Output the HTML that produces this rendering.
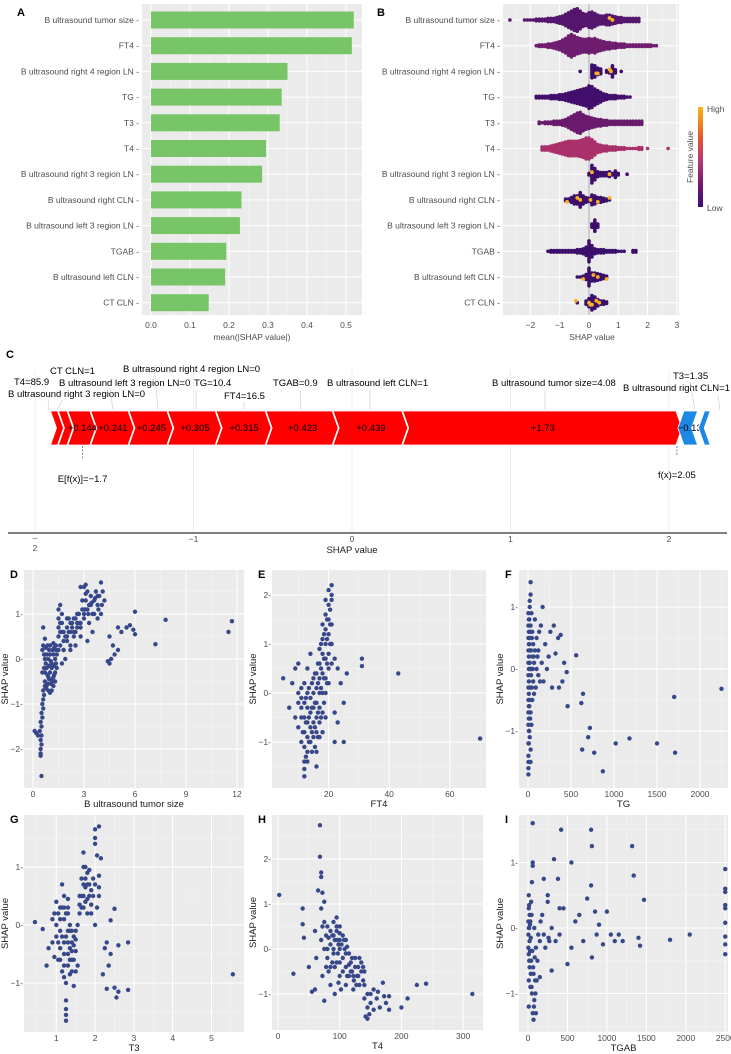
<!DOCTYPE html>
<html><head><meta charset="utf-8"><style>
html,body{margin:0;padding:0;background:#fff;}
svg{display:block;font-family:"Liberation Sans",Arial,sans-serif;}
.tk{font-size:8.5px;fill:#4d4d4d;}
.tt{font-size:9.5px;fill:#1a1a1a;}
.pl{font-size:11px;font-weight:bold;fill:#000;}
.fl{font-size:9.5px;fill:#000;}
</style></head><body>
<svg id="fig" width="731" height="1054" viewBox="0 0 731 1054" xmlns="http://www.w3.org/2000/svg"></svg>
<script>
// ---------- DATA ----------
const features = ["B ultrasound tumor size","FT4","B ultrasound right 4 region LN","TG","T3","T4","B ultrasound right 3 region LN","B ultrasound right CLN","B ultrasound left 3 region LN","TGAB","B ultrasound left CLN","CT CLN"];
const importance = [0.52,0.515,0.35,0.335,0.33,0.295,0.285,0.232,0.228,0.193,0.19,0.148];
const importanceTicks = [0.0,0.1,0.2,0.3,0.4,0.5];
const swarmStart = [-2.7,-1.8,-0.3,-1.8,-1.7,-1.6,0.0,-0.8,0.1,-1.4,-0.4,-0.4];
const swarmCounts = [
 [1,0,0,0,0,1,1,1,1,2,2,2,2,3,3,3,4,5,6,8,10,12,14,15,12,9,8,10,11,9,7,6,6,7,7,6,5,4,4,3,3,3,3,3,3],
 [1,2,2,2,3,3,4,5,6,8,10,13,15,13,11,10,9,9,10,9,10,8,7,6,5,5,4,4,3,3,3,2,2,2,2,2,2,2,2,2,1,1],
 [1,0,0,0,9,8,5,4,0,2,3,8,3,0,1],
 [2,2,2,2,2,3,3,3,4,4,5,6,7,8,9,10,11,12,15,14,11,9,7,5,4,3,3,3,2,2,2,1,1],
 [2,1,2,2,2,3,3,3,4,5,7,9,11,13,14,11,9,8,7,6,5,5,4,4,3,3,3,3,3,3,3,3,3,3,3,3],
 [3,3,3,4,5,6,7,8,9,10,10,10,10,11,12,14,14,12,9,6,5,4,4,3,3,3,2,2,2,1,1,1,1,2,2,0,1,0,0,0,0,0,0,1],
 [2,12,8,4,3,3,3,4,2,5,2,0,0,1],
 [2,2,4,6,6,10,6,4,3,7,6,4,4,3,2,1],
 [3,8,3],
 [1,2,2,2,2,2,2,2,2,2,3,3,4,6,14,8,4,3,3,3,2,2,2,2,1,1,1,0,0,2,2],
 [1,1,2,4,12,6,6,5,4,3,2],
 [1,0,0,3,6,10,8,5,3,3,2]
];
const swarmColor = ["#55166d","#6e1d6f","#3d0f6c","#430f6c","#6a1b6e","#a9306b","#3d0f6c","#3d0f6c","#3d0f6c","#3d0f6c","#3d0f6c","#3d0f6c"];
const highRow = [0,0,2,2,2,2,6,6,7,7,7,7,7,7,10,10,10,10,11,11,11,11,11,11];
const highVal = [0.7,0.8,0.3,0.7,0.75,0.25,0.1,0.7,-0.75,-0.4,-0.3,0.3,0.7,0.05,-0.2,0.15,0.3,0.6,-0.45,0.0,0.1,0.25,0.35,0.05];
const swarmTicks = [-2,-1,0,1,2,3];

const forceLabels = ["T4","B ultrasound right 3 region LN","+0.144","+0.241","+0.245","+0.305","+0.315","+0.423","+0.439","+1.73"];
const forceValues = [0.05,0.06,0.144,0.241,0.245,0.305,0.315,0.423,0.439,1.73];
const forceNeg = [-0.13,-0.08];
const baseValue = -1.7;
const fxValue = 2.05;
const forceTicks = [-2,-1,0,1,2];

const dX=[0.45,0.45,0.5,0.45,0.5,0.4,0.5,0.45,0.55,0.5,0.6,0.55,0.6,0.65,0.6,0.7,0.1,0.2,0.3,0.5,0.45,0.7,0.8,0.9,1.0,1.1,1.2,1.3,0.7,0.8,0.9,1.0,1.1,1.2,1.3,1.4,0.7,0.8,0.9,1.0,1.1,1.2,1.3,1.4,0.6,0.7,0.6,1.0,1.2,1.5,1.5,1.5,1.5,1.5,1.6,1.7,1.6,1.7,1.8,1.7,1.8,2.0,2.0,2.1,2.2,2.3,2.4,2.5,2.6,2.7,2.8,2.9,3.0,2.2,2.5,2.8,1.9,3.0,3.1,3.1,3.2,3.3,3.4,3.5,3.6,3.7,3.8,3.9,4.0,4.1,4.2,3.5,3.3,3.8,2.8,3.2,4.0,4.4,4.5,4.5,4.7,4.8,5.0,5.2,5.5,5.7,5.9,6.0,6.0,7.2,7.8,11.5,11.7,4.6,5.0];
const dY=[-2.1,-2.0,-1.9,-1.8,-1.7,-1.6,-1.5,-1.4,-1.3,-1.2,-1.1,-1.0,-0.9,-0.8,-0.7,-0.6,-1.6,-1.65,-1.7,-2.6,-2.15,-0.5,-0.6,-0.7,-0.75,-0.7,-0.6,-0.5,-0.3,-0.2,-0.4,-0.3,-0.2,-0.4,-0.3,-0.2,0,0.1,0,0.1,-0.1,0.1,0,0.1,0.3,0.45,0.7,0.3,0.35,0.2,0.5,0.7,0.9,1.1,1.2,1.0,0.8,0.6,0.4,-0.1,0.2,0.4,0.7,0.9,0.6,0.8,0.5,0.9,0.7,1.0,0.8,1.1,0.9,0.2,0.3,0.5,0.0,1.6,1.65,1.3,1.5,1.2,1.4,1.0,1.3,1.5,1.2,1.4,1.7,1.5,1.3,0.6,0.8,0.9,1.6,0.4,1.0,-0.05,-0.1,0.5,0.3,0.1,0.7,0.6,0.7,0.75,0.65,1.05,0.55,0.33,0.87,0.6,0.84,0.0,0.2];
const dExtra=[[0.75,-0.65],[0.85,-0.55],[0.95,-0.45],[1.05,-0.55],[1.15,-0.45],[1.25,-0.35],[1.35,-0.1],[0.75,-0.1],[0.85,-0.35],[0.95,-0.15],[1.05,-0.05],[1.15,0.2],[1.25,0.25],[1.35,0.2],[0.75,0.25],[0.85,0.3],[0.95,0.2],[1.05,-0.55],[1.15,-0.5],[1.25,-0.15],[1.35,0.3],[0.65,-0.2],[0.65,0.1],[0.55,-0.3],[0.55,0.2],[1.6,0.3],[1.7,0.8],[1.8,0.6],[1.9,0.5],[2.0,0.9],[2.1,0.6],[2.2,0.8],[2.3,0.7],[2.4,0.9],[2.5,0.6],[2.6,1.0],[2.7,0.8],[1.6,0.6],[1.8,0.2],[2.0,0.5],[2.2,0.3],[2.4,0.6],[2.6,0.8],[2.8,0.7],[3.0,1.0],[3.2,1.1],[3.4,1.2],[3.6,1.0],[3.8,1.4],[3.05,1.1],[3.25,1.0],[3.45,1.25],[3.65,1.35],[3.85,1.1],[4.05,1.2],[2.9,1.3],[3.1,1.45]];
const eX=[5,7,8,9,9,10,10,10,11,11,11,11,12,12,12,12,12,12,12,13,13,13,13,13,13,14,14,14,14,14,15,15,15,15,15,16,16,16,16,16,16,17,17,17,17,17,17,18,18,18,18,18,19,19,19,19,19,19,20,20,20,20,20,21,21,21,21,21,20,22,22,22,23,23,24,25,25,26,31,31,43,70,19,18,20,21];
const eY=[0.3,-0.3,0.2,-0.5,0.5,-0.2,0.6,-0.7,-0.5,0.1,-1.0,-0.3,-1.7,-1.4,-1.1,-0.8,-0.5,-0.2,0.2,-1.2,-0.9,-0.6,-0.3,0,0.5,-1.0,-0.7,-0.4,-0.1,0.8,-0.9,-0.6,-0.3,0,0.3,-1.5,-0.8,-0.5,-0.2,0.1,0.4,-0.6,-0.3,0,0.3,0.6,0.9,-0.4,0,0.4,0.8,1.1,0,0.3,0.7,1.0,1.3,1.6,0.5,0.8,1.2,1.5,1.8,2.2,1.9,1.4,0.6,2.0,2.1,0.7,-0.4,-1.0,0.5,-0.6,0.2,-0.2,-1.0,0.4,0.7,0.55,0.4,-0.93,-0.5,-0.8,0.2,1.0];
const eExtra=[[11.5,-0.8],[12.5,-1.3],[12.5,-0.6],[12.5,-0.1],[13.5,-1.0],[13.5,-0.5],[13.5,0.1],[14.5,-1.2],[14.5,-0.8],[14.5,-0.3],[14.5,0.2],[15.5,-1.1],[15.5,-0.7],[15.5,-0.2],[15.5,0.4],[16.5,-0.9],[16.5,-0.4],[16.5,0.2],[16.5,0.6],[17.5,-0.5],[17.5,0.1],[17.5,0.5],[17.5,1.0],[18.5,-0.2],[18.5,0.3],[18.5,0.7],[18.5,1.2],[19.5,0.2],[19.5,0.6],[19.5,1.1],[19.5,1.5],[20.5,1.0],[20.5,1.4],[20.5,1.7],[13,-1.4],[12,-1.55],[16,-1.2],[17,-0.9],[11,-0.1],[10,0.0],[18,1.4],[19,1.9]];
const fX=[5,5,5,10,10,10,10,10,10,10,10,10,10,10,20,30,30,30,20,20,20,20,30,30,30,30,40,40,50,50,50,60,60,70,70,80,80,100,100,120,120,150,160,170,180,200,220,240,260,280,300,320,350,360,380,400,420,450,460,560,620,630,640,700,720,770,870,1020,1180,1500,1700,1710,2250,30,40,15,25];
const fY=[-1.7,-1.6,-1.4,-1.2,-1.0,-0.8,-0.6,-0.4,-0.2,0,0.2,0.4,0.6,0.8,1.0,1.2,1.4,-1.3,-1.1,-0.5,0.1,0.5,-0.7,-0.3,0.3,0.7,-0.9,0.0,-0.5,0.2,0.6,-0.2,0.4,0.1,-0.4,0.3,0.8,0.0,0.5,-0.1,0.3,0.7,0.1,1.0,-0.2,0.4,0.0,0.2,0.6,-0.3,0.7,0.25,0.5,-0.3,0.55,-0.2,0.1,-0.05,-0.6,0.22,-0.55,-1.3,-0.4,-1.1,-0.95,-1.35,-1.65,-1.2,-1.12,-1.2,-0.45,-1.35,-0.32,-1.5,0.9,-0.3,0.0];
const fExtra=[[5,-1.5],[5,-1.2],[5,-0.9],[5,-0.7],[5,-0.5],[5,-0.3],[5,-0.1],[5,0.1],[5,0.3],[5,0.5],[5,0.7],[5,0.9],[15,-1.0],[15,-0.6],[15,0.0],[15,0.4],[15,0.8],[20,1.1],[25,-0.8],[25,0.6],[35,-0.1],[35,0.3],[45,-0.3],[45,0.5],[55,0.0],[65,0.2],[90,-0.3],[110,0.2],[130,0.6],[140,-0.2]];
const gX=[0.45,0.65,0.75,0.8,0.9,0.9,0.95,1.0,1.0,1.05,1.05,1.1,1.1,1.1,1.15,1.15,1.2,1.2,1.2,1.2,1.25,1.25,1.25,1.25,1.25,1.3,1.3,1.3,1.35,1.35,1.4,1.4,1.45,1.45,1.5,1.5,1.55,1.55,1.6,1.6,1.65,1.65,1.7,1.7,1.7,1.75,1.8,1.8,1.8,1.85,1.9,1.9,1.95,2.0,2.0,2.0,2.0,2.05,2.1,2.1,2.1,2.15,2.2,2.25,2.3,2.3,2.35,2.4,2.4,2.5,2.5,2.55,2.6,2.6,2.85,2.85,5.55,1.3,1.75,1.5];
const gY=[0.05,-0.07,-0.7,-0.4,-0.3,0.1,-0.55,0.4,-0.2,0.2,-0.6,-0.1,0.3,-0.4,0.7,-0.8,0.5,0.1,-0.3,-0.7,-1.0,-1.3,-1.45,-1.55,-1.65,0.3,-0.1,-0.5,-0.85,0.0,-0.3,-0.6,-0.2,-1.05,-0.1,-0.45,0.0,-0.7,0.2,0.5,0.3,0.8,1.0,1.25,0.5,0.4,0.7,0.9,0.2,0.5,0.6,0.35,0.8,0.0,1.4,1.5,1.65,1.2,1.7,0.85,0.5,1.15,-0.85,-0.4,-0.3,-1.1,-0.7,0.08,-0.5,0.28,-1.08,-1.25,-1.15,-0.35,-1.12,-0.3,-0.85,0.2,0.65,-0.8];
const gExtra=[[1.05,-0.3],[1.1,0.1],[1.15,-0.2],[1.15,0.3],[1.2,-0.5],[1.2,0.3],[1.25,-0.2],[1.25,0.2],[1.3,-0.3],[1.3,-0.7],[1.35,-0.4],[1.35,-0.1],[1.4,-0.1],[1.4,-0.45],[1.45,-0.35],[1.45,-0.6],[1.5,-0.25],[1.1,-0.6],[1.0,0.0],[0.95,0.2],[1.2,-0.9],[1.3,0.45],[1.65,0.5],[1.7,0.3],[1.75,0.8],[1.8,0.45],[1.85,0.7],[1.85,0.95],[1.9,0.2],[1.95,0.5],[2.0,0.7],[2.05,0.3],[1.6,0.35],[1.7,0.7],[1.75,1.0],[2.1,0.65],[1.35,-0.6],[1.4,-0.8]];
const hX=[2,25,40,40,42,50,55,60,60,62,65,68,68,70,70,70,70,72,72,75,75,75,78,80,80,82,85,85,88,90,90,92,95,95,95,98,100,100,100,102,105,105,108,110,110,112,115,118,120,122,125,128,130,132,135,138,140,140,142,145,145,148,150,155,155,160,162,165,170,172,175,180,180,200,210,225,240,315,100,110,92];
const hY=[1.2,-0.55,0.9,0.55,0.25,-0.4,-0.95,-0.9,0.4,-0.2,1.3,2.75,2.05,1.7,1.6,0.9,0.2,1.25,-0.6,1.05,0.6,-1.15,0.3,-0.2,0.5,-0.5,0.1,-0.8,0.3,0.6,-0.1,0.2,0.7,0.4,-0.3,0.1,0.5,0.2,-0.6,-0.9,0.3,-0.2,0.0,-0.4,0.2,-0.6,-0.1,-0.3,-0.5,-0.9,-0.2,-0.6,-0.4,-0.8,-0.3,-0.7,-0.5,-1.1,-1.5,-1.3,-1.0,-1.45,-1.2,-1.35,-0.9,-1.1,-0.95,-1.3,-0.75,-1.05,-1.2,-1.35,-1.05,-1.3,-1.1,-0.8,-0.77,-1.0,0.0,-0.8,-1.0];
const hExtra=[[80,0.0],[85,0.4],[88,-0.3],[90,0.3],[92,-0.4],[95,0.5],[97,-0.1],[100,0.35],[103,0.1],[105,-0.5],[107,0.2],[110,-0.1],[112,0.05],[115,-0.35],[118,-0.5],[120,-0.2],[122,-0.6],[125,-0.4],[127,-0.8],[130,-0.6],[132,-0.2],[135,-0.5],[138,-0.4],[78,-0.4],[75,0.0],[72,0.5],[85,-0.4],[90,0.0],[96,0.2],[100,-0.3],[115,-0.6],[123,-0.7],[140,-0.8],[145,-1.55],[150,-1.0],[98,-0.75],[82,0.25]];
const iX=[10,10,10,10,10,10,20,20,20,30,30,40,40,50,50,60,60,60,60,70,70,80,80,90,100,100,120,150,150,180,200,200,250,250,270,300,300,330,350,380,400,400,420,450,500,550,550,600,650,700,750,800,800,810,810,850,870,900,950,1000,1050,1100,1150,1200,1320,1340,1400,1420,1470,1800,2050,2500,2500,2500,2500,2500,2500,2500,2500,2500];
const iY=[-1.2,-0.8,-0.4,0,0.3,0.5,-0.6,-0.2,0.2,-0.9,0.1,-0.5,0.4,-1.0,0.7,-1.3,1.0,0.95,1.6,-1.4,-0.7,-1.1,0.0,-0.8,-1.3,-0.3,-0.5,-0.2,-0.75,0.2,0.75,-0.1,0.5,0.4,-0.2,-0.65,0.0,1.05,-0.2,0.75,0.3,-0.1,1.5,0.3,-0.55,1.0,-0.3,0.1,0.2,-0.2,0.45,0.65,1.5,1.25,-0.45,0.25,-0.1,0.05,-0.25,0.25,-0.1,-0.2,-0.1,-0.2,1.25,0.8,-0.15,-0.27,0.43,-0.18,-0.1,0.9,0.6,0.55,0.35,0.3,0.08,-0.13,-0.25,-0.4];
const iExtra=[[5,-0.1],[5,0.1],[5,-0.3],[15,0.0],[15,-0.5],[15,0.35],[25,-0.35],[25,0.05],[35,-0.7],[35,-0.15],[45,-0.9],[45,0.2],[55,-0.35],[65,-0.6],[75,-1.2],[85,-0.45],[95,-1.0],[110,-0.8],[130,-0.1],[160,0.1],[220,-0.3],[260,-0.15]];

// ---------- HELPERS ----------
const NS="http://www.w3.org/2000/svg";
const svg=document.getElementById('fig');
function mk(tag,attrs,parent){const e=document.createElementNS(NS,tag);for(const k in attrs)e.setAttribute(k,attrs[k]);(parent||svg).appendChild(e);return e;}
function txt(s,x,y,cls,anchor,parent){const t=mk('text',{x:x,y:y,class:cls,'text-anchor':anchor||'start'},parent);t.textContent=s;return t;}
function grp(name){const g=mk('g',{});return g;}

// ---------- PANEL A ----------
(function(){
 const g=grp('panel-a-importance');
 const x0=151,sc=390,rowY=i=>20+i*25.7;
 mk('rect',{x:142,y:4,width:220,height:311,fill:'#ebebeb'},g);
 for(let v=0.05;v<0.56;v+=0.1) mk('line',{x1:x0+v*sc,x2:x0+v*sc,y1:4,y2:315,stroke:'#f5f5f5','stroke-width':0.5},g);
 importanceTicks.forEach(v=>{mk('line',{x1:x0+v*sc,x2:x0+v*sc,y1:4,y2:315,stroke:'#fff','stroke-width':1},g);
  const t=txt(v.toFixed(1),x0+v*sc,328,'tk','middle',g);});
 features.forEach((f,i)=>{
  mk('line',{x1:142,x2:362,y1:rowY(i),y2:rowY(i),stroke:'#fff','stroke-width':1},g);
  const b=mk('rect',{x:x0,y:rowY(i)-8.5,width:importance[i]*sc,height:17,fill:'#77c566'},g);
  
  
  const t=txt(f+' -',139,rowY(i)+3,'tk','end',g);
  
  
 });
 const at=txt('mean(|SHAP value|)',252,340,'tk','middle',g);
 txt('A',17,16,'pl','start',g);
})();

// ---------- PANEL B ----------
(function(){
 const g=grp('panel-b-beeswarm');
 const x0=589,sc=29.3,rowY=i=>20+i*25.7;
 mk('rect',{x:503,y:4,width:176,height:311,fill:'#ebebeb'},g);
 for(let v=-2.5;v<3;v+=1) mk('line',{x1:x0+v*sc,x2:x0+v*sc,y1:4,y2:315,stroke:'#f5f5f5','stroke-width':0.5},g);
 swarmTicks.forEach(v=>{mk('line',{x1:x0+v*sc,x2:x0+v*sc,y1:4,y2:315,stroke:'#fff'},g);
  const t=txt(v<0?'\u2212'+(-v):String(v),x0+v*sc,328,'tk','middle',g);});
 features.forEach((f,i)=>{
  mk('line',{x1:503,x2:679,y1:rowY(i),y2:rowY(i),stroke:'#fff'},g);
  const t=txt(f+' -',500,rowY(i)+3,'tk','end',g);
  
  
 });
 mk('line',{x1:x0,x2:x0,y1:4,y2:315,stroke:'#9a9a9a','stroke-width':0.8},g);
 features.forEach((f,i)=>{
  swarmCounts[i].forEach((n,k)=>{
   const v=swarmStart[i]+k*0.1;
   for(let j=0;j<n;j++){
    const c=mk('circle',{cx:x0+v*sc,cy:rowY(i)+(j-(n-1)/2)*1.6,r:1.8,fill:swarmColor[i]},g);
    
    
   }
  });
 });
 highRow.forEach((r,k)=>{
  const c=mk('circle',{cx:x0+highVal[k]*sc,cy:rowY(r)+((k%3)-1)*2,r:1.9,fill:'#f9b322'},g);
  
  
 });
 const at=txt('SHAP value',592,340,'tk','middle',g);
 const defs=mk('defs',{});const lg=mk('linearGradient',{id:'cb',x1:0,y1:0,x2:0,y2:1},defs);
 [['0','#fcb519'],['0.3','#e4582f'],['0.55','#b5367a'],['0.8','#6a176e'],['1','#3b0f70']].forEach(s=>mk('stop',{offset:s[0],'stop-color':s[1]},lg));
 const cb=mk('rect',{x:698,y:107,width:5,height:100,fill:'url(#cb)'},g);
 
 txt('High',707,112,'tk','start',g);txt('Low',707,211,'tk','start',g);
 const ft=txt('Feature value',0,0,'tk','middle',g);ft.setAttribute('transform','translate(693,157) rotate(-90)');
 
 txt('B',377,16,'pl','start',g);
})();

// ---------- PANEL C ----------
(function(){
 const g=grp('panel-c-force');
 const x=v=>352+v*158.5;
 forceTicks.forEach(v=>mk('line',{x1:x(v),x2:x(v),y1:370,y2:532,stroke:'#ececec'},g));
 const top=411,bot=445,mid=428,tip=6;
 const sumPos=forceValues.reduce((a,b)=>a+b,0);
 let cur=fxValue-sumPos;
 forceValues.forEach((v,i)=>{
  const a=x(cur),b=x(cur+v);
  const p=mk('polygon',{points:`${a},${top} ${b-1},${top} ${b-1+tip},${mid} ${b-1},${bot} ${a},${bot} ${a+tip},${mid}`,fill:'#ff0000',stroke:'#fff','stroke-width':0.8},g);
  
  
  if(i>=2) txt(forceLabels[i],(a+b)/2+3,431,'fl','middle',g);
  cur+=v;
 });
 let c2=fxValue;
 forceNeg.forEach((v,i)=>{
  const a=x(c2)+1,b=x(c2-v);
  const p=mk('polygon',{points:`${a+tip},${top} ${b},${top} ${b-tip},${mid} ${b},${bot} ${a+tip},${bot} ${a},${mid}`,fill:'#1e88e5',stroke:'#fff','stroke-width':0.8},g);
  
  
  if(i===0) txt('\u22120.13',(a+b)/2+2,431,'fl','middle',g);
  c2-=v;
 });
 mk('line',{x1:x(baseValue),x2:x(baseValue),y1:446,y2:460,stroke:'#555','stroke-dasharray':'2,1.5','stroke-width':0.7},g);
 mk('line',{x1:x(fxValue),x2:x(fxValue),y1:446,y2:455,stroke:'#555','stroke-dasharray':'2,1.5','stroke-width':0.7},g);
 txt('E[f(x)]=\u22121.7',x(baseValue),482,'fl','middle',g);
 txt('f(x)=2.05',x(fxValue),478,'fl','middle',g);
 const labs=[['T4=85.9',14,385],['B ultrasound right 3 region LN=0',8,397],['CT CLN=1',50,374],['B ultrasound left 3 region LN=0',59,386],['B ultrasound right 4 region LN=0',123,372],['TG=10.4',194,386],['FT4=16.5',224,399],['TGAB=0.9',273,386],['B ultrasound left CLN=1',327,386],['B ultrasound tumor size=4.08',492,386],['T3=1.35',673,379],['B ultrasound right CLN=1',623,391]];
 labs.forEach(l=>{const t=txt(l[0],l[1],l[2],'fl','start',g);});
 [[48,400,49,410],[63,400,57,410],[110,388,113,410],[155,375,158,410],[196,390,196,410],[244,402,244,410],[300,390,301,410],[370,390,370,410],[545,390,545,410],[690,382,695,410],[718,395,720,410]].forEach(s=>mk('line',{x1:s[0],y1:s[1],x2:s[2],y2:s[3],stroke:'#c8c8c8','stroke-width':0.6},g));
 mk('line',{x1:8,x2:727,y1:533,y2:533,stroke:'#333','stroke-width':1.3},g);
 forceTicks.forEach(v=>{
  if(v===-2){txt('\u2013',x(v),541,'tk','middle',g);txt('2',x(v),551,'tk','middle',g);}
  else txt(v<0?'\u2212'+(-v):String(v),x(v),542,'tk','middle',g);
 });
 const at=txt('SHAP value',352,553,'tt','middle',g);
 txt('C',6,358,'pl','start',g);
})();

// ---------- SCATTER PANELS ----------
function scatter(o,xs,ys,extra){
 const g=grp(o.name);
 const X=v=>o.x0+v*o.xs, Y=v=>o.y0-v*o.ys;
 mk('rect',{x:o.l,y:o.t,width:o.r-o.l,height:o.b-o.t,fill:'#ebebeb'},g);
 const xt=o.xt, yt=o.yt, st=xt[1]-xt[0];
 for(let m=xt[0]-st/2;m<=xt[xt.length-1]+st;m+=st){ if(X(m)>o.l&&X(m)<o.r) mk('line',{x1:X(m),x2:X(m),y1:o.t,y2:o.b,stroke:'#f5f5f5','stroke-width':0.5},g);}
 for(let m=yt[0]-0.5;m<=yt[yt.length-1]+1;m+=1){ if(Y(m)>o.t&&Y(m)<o.b) mk('line',{x1:o.l,x2:o.r,y1:Y(m),y2:Y(m),stroke:'#f5f5f5','stroke-width':0.5},g);}
 xt.forEach(v=>{mk('line',{x1:X(v),x2:X(v),y1:o.t,y2:o.b,stroke:'#fff'},g);txt(String(v),X(v),o.b+9,'tk','middle',g);});
 yt.forEach(v=>{mk('line',{x1:o.l,x2:o.r,y1:Y(v),y2:Y(v),stroke:'#fff'},g);txt((v<0?'\u2212'+(-v):String(v))+'-',o.l-1,Y(v)+3,'tk','end',g);});
 const pts=xs.map((v,i)=>[v,ys[i]]).concat(extra);
 pts.forEach(p=>{
  const c=mk('circle',{cx:X(p[0]),cy:Y(p[1]),r:2.2,fill:'#36478a'},g);
  
  
 });
 const xtl=txt(o.xl,(o.l+o.r)/2,o.b+19,'tt','middle',g);
 const ytl=txt('SHAP value',0,0,'tt','middle',g);ytl.setAttribute('transform',`translate(${o.l-16},${(o.t+o.b)/2}) rotate(-90)`);
 
 txt(o.lab,o.l-14,o.t+8,'pl','start',g);
}
scatter({name:'panel-d-tumor-size',lab:'D',l:24,r:244,t:570,b:788,x0:33,xs:17,y0:659,ys:45,xt:[0,3,6,9,12],yt:[-2,-1,0,1],xl:'B ultrasound tumor size'},dX,dY,dExtra);
scatter({name:'panel-e-ft4',lab:'E',l:272,r:486,t:570,b:788,x0:268,xs:3.03,y0:693,ys:49,xt:[20,40,60],yt:[-1,0,1,2],xl:'FT4'},eX,eY,eExtra);
scatter({name:'panel-f-tg',lab:'F',l:519,r:728,t:570,b:788,x0:528,xs:0.086,y0:669,ys:62,xt:[0,500,1000,1500,2000],yt:[-1,0,1],xl:'TG'},fX,fY,fExtra);
scatter({name:'panel-g-t3',lab:'G',l:24,r:244,t:815,b:1032,x0:17.5,xs:38.8,y0:925,ys:58,xt:[1,2,3,4,5],yt:[-1,0,1],xl:'T3'},gX,gY,gExtra);
scatter({name:'panel-h-t4',lab:'H',l:272,r:483,t:815,b:1030,x0:278,xs:0.617,y0:949,ys:45,xt:[0,100,200,300],yt:[-1,0,1,2],xl:'T4'},hX,hY,hExtra);
scatter({name:'panel-i-tgab',lab:'I',l:519,r:728,t:815,b:1032,x0:528,xs:0.0789,y0:928,ys:65.5,xt:[0,500,1000,1500,2000,2500],yt:[-1,0,1],xl:'TGAB'},iX,iY,iExtra);
</script>
</body></html>
